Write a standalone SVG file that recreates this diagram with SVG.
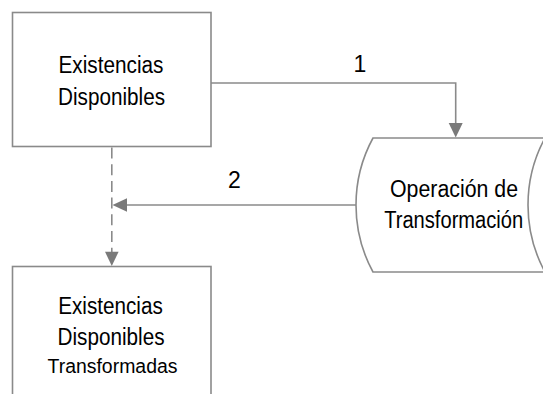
<svg xmlns="http://www.w3.org/2000/svg" width="543" height="394" viewBox="0 0 543 394">
<style>
.shape{fill:#ffffff;stroke:#8a8a8a;stroke-width:1.6}
.line{fill:none;stroke:#8a8a8a;stroke-width:1.6}
.dash{stroke-dasharray:11 5.7}
.head{fill:#7a7a7a;stroke:none}
.t{font-family:"Liberation Sans",Arial,sans-serif;font-size:23px;fill:#000000;text-anchor:middle}
.s{font-size:20px}
</style>
<rect x="0" y="0" width="543" height="394" fill="#ffffff"/>
<g id="connectors">
<path class="line" d="M211,83 H455.7 V124"/>
<polygon class="head" points="448.7,123 462.7,123 455.7,137.5"/>
<path class="line" d="M356,205 H126"/>
<polygon class="head" points="112.5,205 127,198.3 127,211.7"/>
<path class="line dash" d="M111.8,147.5 V252"/>
<polygon class="head" points="105,251.7 118.6,251.7 111.8,266"/>
<text class="t" x="360" y="71.7">1</text>
<text class="t" x="234.3" y="187.7">2</text>
</g>
<g id="node-existencias">
<rect class="shape" x="12.5" y="12.5" width="198.5" height="134"/>
<text class="t" x="111" y="73" textLength="105" lengthAdjust="spacingAndGlyphs">Existencias</text>
<text class="t" x="111.5" y="104.5" textLength="107" lengthAdjust="spacingAndGlyphs">Disponibles</text>
</g>
<g id="node-operacion">
<path class="shape" d="M373,138 H545 C533,160 528,185 528,205 C528,225 533,250 545,272 H373 C361,250 356,225 356,205 C356,185 361,160 373,138 Z"/>
<text class="t" x="454" y="196.7" textLength="128" lengthAdjust="spacingAndGlyphs">Operación de</text>
<text class="t" x="453.7" y="228.3" textLength="139" lengthAdjust="spacingAndGlyphs">Transformación</text>
</g>
<g id="node-transformadas">
<rect class="shape" x="12.5" y="266.5" width="198.5" height="140"/>
<text class="t" x="110.5" y="313.5" textLength="104.5" lengthAdjust="spacingAndGlyphs">Existencias</text>
<text class="t" x="111" y="345" textLength="107" lengthAdjust="spacingAndGlyphs">Disponibles</text>
<text class="t s" x="112.5" y="372.7" textLength="130" lengthAdjust="spacingAndGlyphs">Transformadas</text>
</g>
</svg>
